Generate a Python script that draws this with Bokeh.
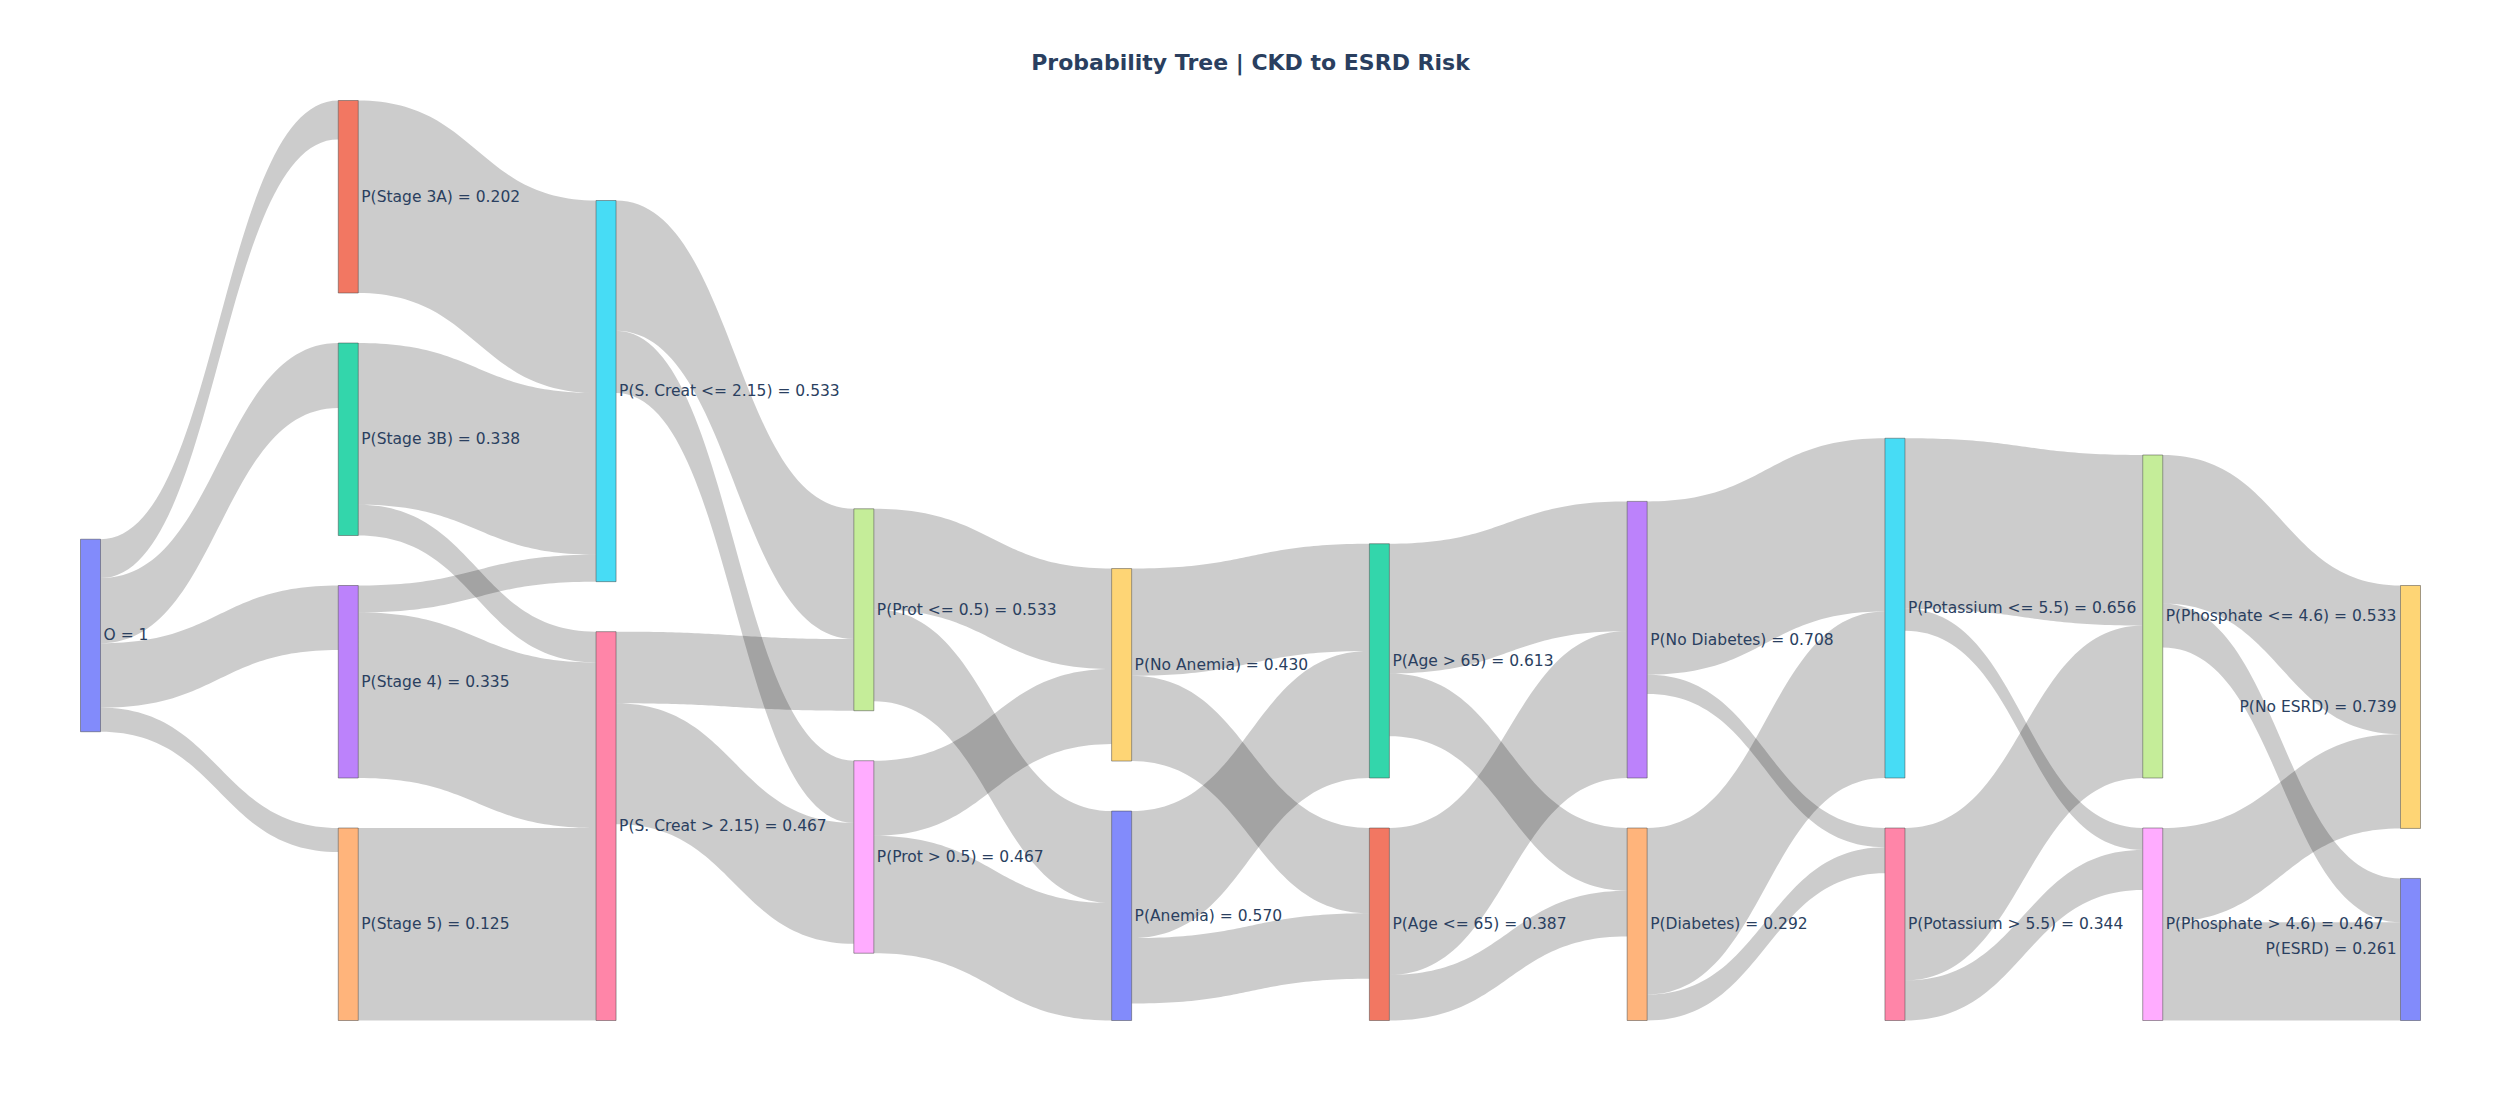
import numpy as np
from bokeh.plotting import figure
from bokeh.models import Range1d, Label, ColumnDataSource
from bokeh.embed import file_html
from bokeh.resources import INLINE
from bokeh.core.properties import value

# ---------------- data ----------------
title_text = "Probability Tree | CKD to ESRD Risk"

node_labels = [
    "O = 1",
    "P(Stage 3A) = 0.202", "P(Stage 3B) = 0.338", "P(Stage 4) = 0.335", "P(Stage 5) = 0.125",
    "P(S. Creat <= 2.15) = 0.533", "P(S. Creat > 2.15) = 0.467",
    "P(Prot <= 0.5) = 0.533", "P(Prot > 0.5) = 0.467",
    "P(No Anemia) = 0.430", "P(Anemia) = 0.570",
    "P(Age <= 65) = 0.387", "P(Age > 65) = 0.613",
    "P(No Diabetes) = 0.708", "P(Diabetes) = 0.292",
    "P(Potassium <= 5.5) = 0.656", "P(Potassium > 5.5) = 0.344",
    "P(Phosphate <= 4.6) = 0.533", "P(Phosphate > 4.6) = 0.467",
    "P(No ESRD) = 0.739", "P(ESRD) = 0.261",
]

link_source = [0, 0, 0, 0,
               1, 2, 2, 3, 3, 4,
               5, 5, 6, 6,
               7, 7, 8, 8,
               9, 9, 10, 10,
               12, 12, 11, 11,
               13, 13, 14, 14,
               15, 15, 16, 16,
               17, 17, 18, 18]
link_target = [1, 2, 3, 4,
               5, 5, 6, 5, 6, 6,
               7, 8, 7, 8,
               9, 10, 9, 10,
               12, 11, 12, 11,
               13, 14, 13, 14,
               15, 16, 15, 16,
               17, 18, 17, 18,
               19, 20, 19, 20]
link_value = [0.202, 0.338, 0.335, 0.125,
              1.0, 0.84, 0.16, 0.14, 0.86, 1.0,
              0.677, 0.323, 0.372, 0.628,
              0.522, 0.478, 0.39, 0.61,
              0.557, 0.443, 0.66, 0.34,
              0.674, 0.326, 0.763, 0.237,
              0.90, 0.10, 0.865, 0.135,
              0.886, 0.114, 0.792, 0.208,
              0.772, 0.228, 0.49, 0.51]

# ---------------- style / layout constants ----------------
colorway = ["#636efa", "#EF553B", "#00cc96", "#ab63fa", "#FFA15A",
            "#19d3f3", "#FF6692", "#B6E880", "#FF97FF", "#FECB52"]
PAGE_W, PAGE_H = 2500, 1100
M_L, M_R, M_T, M_B = 80, 80, 100, 80
NODE_W = 20
NODE_PAD = 50
ITERATIONS = 50
TEXT_COLOR = "#2a3f5f"
FONT = "DejaVu Sans"


def js_key(v):
    # column keys are compared as strings (as in the JS nest-based layout)
    return str(int(v)) if float(v).is_integer() else repr(float(v))


def sankey_layout(n, src, tgt, val, width, height, dx, py, iterations):
    srcl = [[] for _ in range(n)]
    tgtl = [[] for _ in range(n)]
    for li in range(len(src)):
        srcl[src[li]].append(li)
        tgtl[tgt[li]].append(li)
    nval = [max(sum(val[l] for l in srcl[i]), sum(val[l] for l in tgtl[i])) for i in range(n)]
    depth = [0] * n
    nodes = list(range(n))
    d = 0
    while nodes:
        nxt = []
        for i in nodes:
            depth[i] = d
            for l in srcl[i]:
                if tgt[l] not in nxt:
                    nxt.append(tgt[l])
        nodes = nxt
        d += 1
    ncol = d
    layer = [depth[i] if srcl[i] else ncol - 1 for i in range(n)]
    kx = (width - dx) / (ncol - 1)
    nx0 = [layer[i] * kx for i in range(n)]
    nx1 = [x + dx for x in nx0]
    order = sorted(range(ncol), key=lambda c: js_key(c * kx))
    cols = [[i for i in range(n) if layer[i] == c] for c in order]
    ky = min((height - (len(c) - 1) * py) / sum(nval[i] for i in c) for c in cols)
    y0 = [0.0] * n
    y1 = [0.0] * n
    for c in cols:
        for k, i in enumerate(c):
            y0[i] = float(k)
            y1[i] = k + nval[i] * ky
    lw = [v * ky for v in val]

    def center(i):
        return (y0[i] + y1[i]) / 2

    def resolve():
        for c in cols:
            c.sort(key=lambda i: y0[i])
            y = 0.0
            node = None
            for i in c:
                node = i
                dy = y - y0[i]
                if dy > 0:
                    y0[i] += dy
                    y1[i] += dy
                y = y1[i] + py
            dy = y - py - height
            if dy > 0:
                y0[node] -= dy
                y1[node] -= dy
                y = y0[node]
                for i in reversed(c[:-1]):
                    dy = y1[i] + py - y
                    if dy > 0:
                        y0[i] -= dy
                        y1[i] -= dy
                    y = y0[i]

    def relax_lr(alpha):
        for c in cols:
            for i in c:
                if tgtl[i]:
                    s = sum(center(src[l]) * val[l] for l in tgtl[i]) / sum(val[l] for l in tgtl[i])
                    dy = (s - center(i)) * alpha
                    y0[i] += dy
                    y1[i] += dy

    def relax_rl(alpha):
        for c in reversed(cols):
            for i in c:
                if srcl[i]:
                    s = sum(center(tgt[l]) * val[l] for l in srcl[i]) / sum(val[l] for l in srcl[i])
                    dy = (s - center(i)) * alpha
                    y0[i] += dy
                    y1[i] += dy

    resolve()
    alpha = 1.0
    for _ in range(iterations):
        alpha *= 0.99
        relax_rl(alpha)
        resolve()
        relax_lr(alpha)
        resolve()

    ly0 = [0.0] * len(src)
    ly1 = [0.0] * len(src)
    for i in range(n):
        sl = sorted(srcl[i], key=lambda l: y0[tgt[l]])
        tl = sorted(tgtl[i], key=lambda l: y0[src[l]])
        yy = y0[i]
        for l in sl:
            ly0[l] = yy
            yy += lw[l]
        yy = y0[i]
        for l in tl:
            ly1[l] = yy
            yy += lw[l]
    return nx0, nx1, y0, y1, ly0, ly1, lw, layer, ncol


n_nodes = len(node_labels)
dom_w = PAGE_W - M_L - M_R
dom_h = PAGE_H - M_T - M_B
nx0, nx1, ny0, ny1, ly0, ly1, lw, layer, ncol = sankey_layout(
    n_nodes, link_source, link_target, link_value, dom_w, dom_h, NODE_W, NODE_PAD, ITERATIONS)

nx0 = [x + M_L for x in nx0]
nx1 = [x + M_L for x in nx1]
ny0 = [y + M_T for y in ny0]
ny1 = [y + M_T for y in ny1]
ly0 = [y + M_T for y in ly0]
ly1 = [y + M_T for y in ly1]

# link band polygons (cubic bezier, curvature 0.5)
t = np.linspace(0, 1, 60)
b0 = (1 - t) ** 3
b1 = 3 * (1 - t) ** 2 * t
b2 = 3 * (1 - t) * t ** 2
b3 = t ** 3
xs_list, ys_list = [], []
for l in range(len(link_source)):
    s, g = link_source[l], link_target[l]
    xa, xb = nx1[s], nx0[g]
    xm = xa + (xb - xa) * 0.5
    bx = b0 * xa + (b1 + b2) * xm + b3 * xb
    top = (b0 + b1) * ly0[l] + (b2 + b3) * ly1[l]
    bot = (b0 + b1) * (ly0[l] + lw[l]) + (b2 + b3) * (ly1[l] + lw[l])
    xs_list.append(list(bx) + list(bx[::-1]))
    ys_list.append(list(top) + list(bot[::-1]))

p = figure(width=2484, height=1084, x_range=Range1d(0, 2484), y_range=Range1d(1084, 0),
           output_backend="svg", toolbar_location=None, min_border=0)
p.axis.visible = False
p.grid.visible = False
p.outline_line_color = None
p.background_fill_color = "white"
p.border_fill_color = "white"

p.patches(xs=xs_list, ys=ys_list, fill_color="black", fill_alpha=0.2, line_color=None)

node_colors = [colorway[i % len(colorway)] for i in range(n_nodes)]
node_src = ColumnDataSource(dict(left=nx0, right=nx1, top=ny0, bottom=ny1, color=node_colors))
p.quad(left="left", right="right", top="top", bottom="bottom", source=node_src,
       fill_color="color", fill_alpha=0.8, line_color="#444444", line_width=0.5)

cy = [(a + b) / 2 for a, b in zip(ny0, ny1)]
right_idx = [i for i in range(n_nodes) if layer[i] < ncol - 1]
left_idx = [i for i in range(n_nodes) if layer[i] == ncol - 1]
p.text(x=[nx1[i] + 3 for i in right_idx], y=[cy[i] for i in right_idx],
       text=[node_labels[i] for i in right_idx], text_font=value(FONT), text_font_size="15.5px",
       text_color=TEXT_COLOR, text_align="left", text_baseline="middle")
p.text(x=[nx0[i] - 4 for i in left_idx], y=[cy[i] for i in left_idx],
       text=[node_labels[i] for i in left_idx], text_font=value(FONT), text_font_size="15.5px",
       text_color=TEXT_COLOR, text_align="right", text_baseline="middle")

p.add_layout(Label(x=PAGE_W / 2, y=62, text=title_text, text_font=FONT, text_font_style="bold",
                   text_font_size="22px", text_color=TEXT_COLOR, text_align="center",
                   text_baseline="middle"))

open("out.html", "w").write(file_html(p, INLINE))
